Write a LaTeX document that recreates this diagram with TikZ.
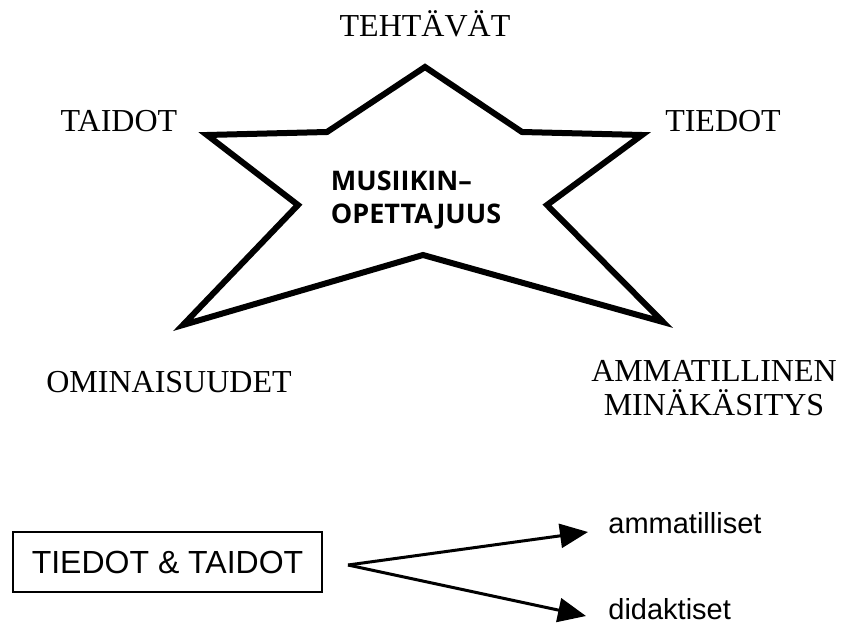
\documentclass[tikz,border=0pt]{standalone}
\usepackage{fontspec}
\setmainfont{Liberation Serif}
\newfontfamily\lsans{Liberation Sans}
\newfontfamily\osans{Open Sans}
\usetikzlibrary{arrows.meta}
\begin{document}
\begin{tikzpicture}[x=0.5pt,y=-0.5pt,
  lbl/.style={font=\fontsize{16}{18}\selectfont, inner sep=0pt, anchor=base},
  starline/.style={line width=3pt, line join=miter},
  boxed/.style={draw, line width=1pt, font=\lsans\fontsize{16}{18}\selectfont, minimum width=154.5pt, minimum height=30pt, inner sep=0pt},
  sub/.style={font=\lsans\fontsize{14.5}{16}\selectfont, inner sep=0pt, anchor=base west},
  arr/.style={line width=1.5pt, -{Triangle[length=14pt,width=12pt]}}]
\useasboundingbox (0,0) rectangle (845,626);
% star
\draw[starline] (425,67) -- (522,132) -- (642,135) -- (547,205) -- (663,322)
  -- (423,255) -- (183,325) -- (298,205) -- (207,135) -- (327,132) -- cycle;
\node[font=\osans\bfseries\fontsize{13.5}{16.5}\selectfont, align=left, inner sep=0pt] (core) at (416,200) {MUSIIKIN–\\OPETTAJUUS};
% labels
\node[lbl] (teht) at (425,37) {TEHTÄVÄT};
\node[lbl] (taid) at (119,132) {TAIDOT};
\node[lbl] (tied) at (723,132) {TIEDOT};
\node[lbl] (omin) at (169,392) {OMINAISUUDET};
\node[lbl] (amm) at (714,381) {AMMATILLINEN};
\node[lbl] (mina) at (714,415) {MINÄKÄSITYS};
% bottom
\node[boxed] (td) at (167.5,562) {TIEDOT \& TAIDOT};
\coordinate (split) at (348,565);
\coordinate (tipA) at (588,532);
\coordinate (tipB) at (586,616);
\node[sub] (ammt) at (608,533) {ammatilliset};
\node[sub] (did) at (608,619) {didaktiset};
\draw[arr] (split) -- (tipA);
\draw[arr] (split) -- (tipB);
\end{tikzpicture}
\end{document}
